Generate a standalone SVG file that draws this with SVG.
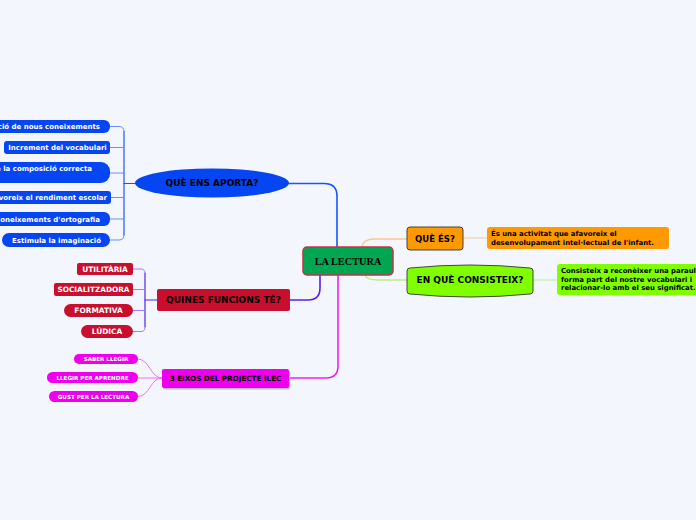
<svg xmlns="http://www.w3.org/2000/svg" width="696" height="520" viewBox="0 0 696 520">
<style>
text{font-family:"DejaVu Sans",Verdana,sans-serif;font-weight:bold}
.w{fill:#ffffff}
.k{fill:#000000}
.c{text-anchor:middle}
.e{text-anchor:end}
.blue{fill:#0645f2}
.red{fill:#c8102e}
.mag{fill:#ee00ee}
.ln{fill:none;stroke-linecap:round}
</style>
<rect x="0" y="0" width="696" height="520" fill="#f3f6fd"/>
<g id="connectors" class="ln">
  <path d="M337,247 V196 Q337,183.5 324,183.5 H289" stroke="#1a55f5" stroke-width="1.6"/>
  <path d="M320,275 V288 Q320,300 308,300 H290" stroke="#5a1ee8" stroke-width="1.6"/>
  <path d="M338,275 V366 Q338,378 326,378 H289" stroke="#ee22ee" stroke-width="1.6"/>
  <path d="M362,247 Q363,239 374,239 H407" stroke="#f8c890" stroke-width="1.3"/>
  <path d="M365,275 Q367,280 378,280 H407" stroke="#b8f080" stroke-width="1.3"/>
  <path d="M463,238 H487" stroke="#f8c890" stroke-width="1.2"/>
  <path d="M533,280 H557" stroke="#b8f080" stroke-width="1.2"/>
  <path d="M124,183.5 H135" stroke="#1a55f5" stroke-width="1.2"/>
  <path d="M124,131.5 V235" stroke="#1a55f5" stroke-width="1.2"/>
  <path d="M110,126.5 H119 Q124,126.5 124,131.5" stroke="#6b8ff5" stroke-width="1"/>
  <path d="M110,240 H119 Q124,240 124,235" stroke="#6b8ff5" stroke-width="1"/>
  <path d="M110,147.5 H124 M110,173 H124 M111,197.5 H124 M110,219 H124" stroke="#6b8ff5" stroke-width="1"/>
  <path d="M145,300 H157" stroke="#5520e8" stroke-width="1.2"/>
  <path d="M145,273 V327" stroke="#5520e8" stroke-width="1.2"/>
  <path d="M133,269 H141 Q145,269 145,273" stroke="#a080f8" stroke-width="1"/>
  <path d="M133,331.5 H141 Q145,331.5 145,327.5" stroke="#a080f8" stroke-width="1"/>
  <path d="M133,289.5 H145 M133,310.5 H145" stroke="#a080f8" stroke-width="1"/>
  <path d="M162,378 C150,378 150,359 138,359" stroke="#f070f0" stroke-width="1"/>
  <path d="M162,378 H138" stroke="#f070f0" stroke-width="1"/>
  <path d="M162,378 C150,378 150,396.5 138,396.5" stroke="#f070f0" stroke-width="1"/>
</g>
<g id="n-central">
  <rect x="303" y="247" width="90" height="28" rx="4" fill="#00a651" stroke="#c8304a" stroke-width="1.5"/>
  <text x="348" y="264.5" class="c k" style="font-family:'Liberation Serif',serif;font-size:10.3px">LA LECTURA</text>
</g>
<g id="n-aporta">
  <ellipse cx="212" cy="183" rx="77" ry="14.5" class="blue"/>
  <text x="212" y="186.3" class="c k" font-size="9">QUÈ ENS APORTA?</text>
</g>
<g id="n-a1">
  <rect x="-30" y="120" width="140" height="13" rx="6" class="blue"/>
  <text x="100" y="129" class="e w" font-size="7">ció de nous coneixements</text>
</g>
<g id="n-a2">
  <rect x="4" y="141" width="106" height="13" rx="3" class="blue"/>
  <text x="57.5" y="150" class="c w" font-size="7">Increment del vocabulari</text>
</g>
<g id="n-a3">
  <rect x="-30" y="162" width="140" height="21" rx="9" class="blue"/>
  <text x="92" y="171" class="e w" font-size="7">e la composició correcta</text>
</g>
<g id="n-a4">
  <rect x="-30" y="191" width="141" height="13" rx="3" class="blue"/>
  <text x="107" y="200" class="e w" font-size="7">voreix el rendiment escolar</text>
</g>
<g id="n-a5">
  <rect x="-30" y="212" width="140" height="14" rx="6" class="blue"/>
  <text x="100" y="221.5" class="e w" font-size="7">Coneixements d'ortografia</text>
</g>
<g id="n-a6">
  <rect x="2" y="233" width="108" height="14" rx="7" class="blue"/>
  <text x="56.5" y="242.5" class="c w" font-size="7">Estimula la imaginació</text>
</g>
<g id="n-funcions">
  <rect x="157" y="289" width="133" height="22" rx="2" class="red"/>
  <text x="223.5" y="303.3" class="c k" font-size="9">QUINES FUNCIONS TÉ?</text>
</g>
<g id="n-f1">
  <rect x="77" y="263" width="56" height="12" rx="2" class="red"/>
  <text x="105" y="271.8" class="c w" font-size="7.4">UTILITÀRIA</text>
</g>
<g id="n-f2">
  <rect x="54" y="283" width="79" height="13" rx="2" class="red"/>
  <text x="93.5" y="292.2" class="c w" font-size="7.3">SOCIALITZADORA</text>
</g>
<g id="n-f3">
  <rect x="64" y="304" width="69" height="13" rx="6.5" class="red"/>
  <text x="98.5" y="313.2" class="c w" font-size="7.4">FORMATIVA</text>
</g>
<g id="n-f4">
  <rect x="81" y="325" width="52" height="13" rx="6.5" class="red"/>
  <text x="107" y="334.2" class="c w" font-size="7.4">LÚDICA</text>
</g>
<g id="n-eixos">
  <rect x="163" y="370.5" width="127" height="19" rx="2" fill="#b8b8c0"/>
  <rect x="162" y="369" width="127" height="19" rx="2" class="mag"/>
  <text x="225.5" y="381" class="c k" font-size="7.2">3 EIXOS DEL PROJECTE ILEC</text>
</g>
<g id="n-e1">
  <rect x="74" y="354" width="64" height="10" rx="5" class="mag"/>
  <text x="106" y="361" class="c w" font-size="5.6">SABER LLEGIR</text>
</g>
<g id="n-e2">
  <rect x="47" y="372" width="91" height="11" rx="5.5" class="mag"/>
  <text x="92.5" y="379.6" class="c w" font-size="5.6">LLEGIR PER APRENDRE</text>
</g>
<g id="n-e3">
  <rect x="49" y="391" width="89" height="11" rx="5.5" class="mag"/>
  <text x="93.5" y="398.6" class="c w" font-size="5.6">GUST PER LA LECTURA</text>
</g>
<g id="n-quees">
  <rect x="407" y="227" width="56" height="23" rx="3" fill="#ff9900" stroke="#333333" stroke-width="0.9"/>
  <text x="435" y="241.6" class="c k" font-size="8.5">QUÈ ÉS?</text>
</g>
<g id="n-quees-d">
  <rect x="487" y="227" width="182" height="22" rx="3" fill="#ff9900"/>
  <text x="491" y="236.2" class="k" font-size="6.9">És una activitat que afavoreix el</text>
  <text x="491" y="245" class="k" font-size="6.9">desenvolupament intel·lectual de l'infant.</text>
</g>
<g id="n-consisteix">
  <path d="M410,268 Q470,262 530,268 Q533,268 533,271 V291 Q533,294 530,294 Q470,300 410,294 Q407,294 407,291 V271 Q407,268 410,268 Z" fill="#80ff00" stroke="#333333" stroke-width="0.9"/>
  <text x="470" y="283.3" class="c k" font-size="9">EN QUÈ CONSISTEIX?</text>
</g>
<g id="n-consisteix-d">
  <rect x="557" y="264" width="150" height="31" rx="3" fill="#80ff00"/>
  <text x="561" y="273" class="k" font-size="6.9">Consisteix a reconèixer una paraula</text>
  <text x="561" y="281.5" class="k" font-size="6.9">forma part del nostre vocabulari i</text>
  <text x="561" y="290" class="k" font-size="6.9">relacionar-lo amb el seu significat.</text>
</g>
</svg>
